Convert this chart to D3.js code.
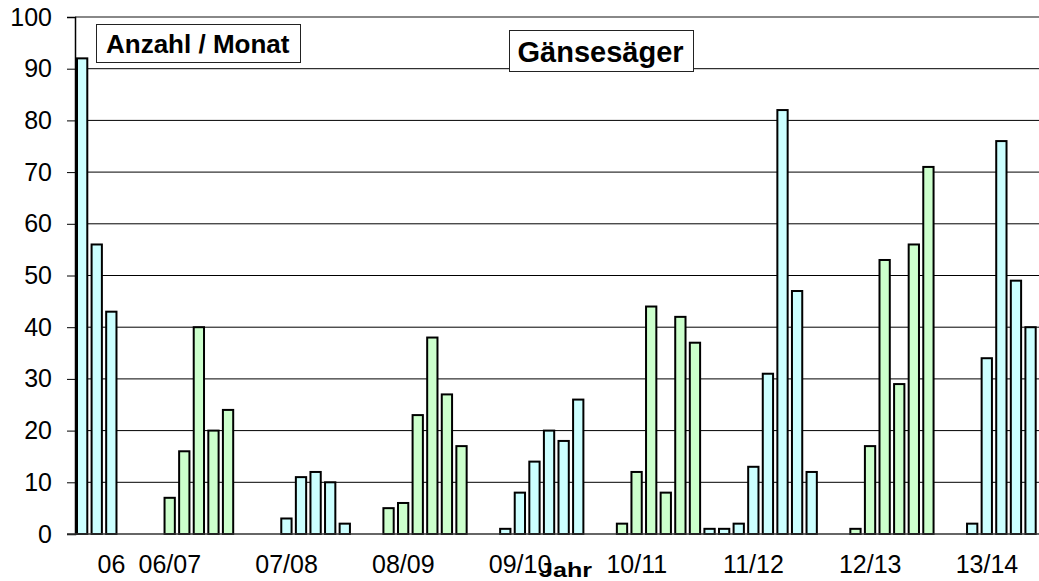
<!DOCTYPE html>
<html>
<head>
<meta charset="utf-8">
<script src="https://cdn.jsdelivr.net/npm/d3@7"></script>
<style>
  html, body { margin: 0; padding: 0; background: #fff; }
  svg { display: block; font-family: "Liberation Sans", Arial, sans-serif; }
</style>
</head>
<body>
<svg id="chart" width="1039" height="581"></svg>
<script>
// ---- data ----
// monthly counts (null = no bar) in chronological order of the category axis
const monthly = [92,56,43,null,null,null,
  7,16,40,20,24,null,null,null,
  3,11,12,10,2,null,null,
  5,6,23,38,27,17,null,null,
  1,8,14,20,18,26,null,null,
  2,12,44,8,42,37,
  1,1,2,13,31,82,47,12,null,null,
  1,17,53,29,56,71,null,null,
  2,34,76,49,40];
// season labels, the month index where each season's bars begin, and where its label sits
const seasons = ["06","06/07","07/08","08/09","09/10","10/11","11/12","12/13","13/14"];
const seasonStart = [0,6,14,21,29,37,43,53,61];
const labelAt = [2,6,14,22,30,38,46,54,62];
const yTicks = [0,10,20,30,40,50,60,70,80,90,100];
const seasonColors = ["#CCFFFF", "#CCFFCC"];
const titleText = "Gänsesäger";
const yTitle = "Anzahl / Monat";
const xTitle = "Jahr";

// ---- layout ----
const svg = d3.select("#chart");
const mLeft = 75, mRight = 1038, mTop = 17, mBottom = 534;

const x = d3.scaleBand().domain(d3.range(monthly.length)).range([mLeft, mRight]).padding(0);
const y = d3.scaleLinear().domain([0, 100]).range([mBottom, mTop]);

function seasonOf(i) {
  let s = 0;
  seasonStart.forEach((st, k) => { if (i >= st) s = k; });
  return s;
}

// gridlines
svg.append("g").selectAll("line").data(yTicks.filter(v => v > 0)).join("line")
  .attr("x1", mLeft).attr("x2", 1039)
  .attr("y1", d => y(d)).attr("y2", d => y(d))
  .attr("stroke", d => d === 100 ? "#888" : "#000")
  .attr("stroke-width", d => d === 100 ? 2 : 1);

// bars
const bw = x.bandwidth();
svg.append("g").selectAll("rect")
  .data(monthly.map((v, i) => ({v, i})).filter(d => d.v !== null))
  .join("rect")
  .attr("x", d => x(d.i) + 2)
  .attr("width", bw - 4.3)
  .attr("y", d => y(d.v))
  .attr("height", d => y(0) - y(d.v))
  .attr("fill", d => seasonColors[seasonOf(d.i) % 2])
  .attr("stroke", "#000")
  .attr("stroke-width", 2);

// y axis
const yAxis = svg.append("g").attr("transform", `translate(${mLeft},0)`)
  .call(d3.axisLeft(y).tickValues(yTicks).tickSize(8).tickPadding(15).tickFormat(d3.format("d")));
yAxis.select(".domain").attr("stroke", "#000").attr("stroke-width", 1.5);
yAxis.selectAll(".tick line").attr("stroke", "#000");
yAxis.selectAll("text").attr("font-size", 25).attr("fill", "#000")
  .attr("font-family", "'Liberation Sans', Arial, sans-serif");

// x axis
const xAxis = svg.append("g").attr("transform", `translate(0,${mBottom})`)
  .call(d3.axisBottom(x).tickValues(labelAt).tickSize(0)
    .tickFormat(d => seasons[labelAt.indexOf(d)]));
xAxis.select(".domain").remove();
xAxis.selectAll("text").attr("font-size", 25).attr("fill", "#000")
  .attr("y", 39).attr("dy", 0)
  .attr("font-family", "'Liberation Sans', Arial, sans-serif");
svg.append("line").attr("x1", 67).attr("x2", 1039)
  .attr("y1", y(0)).attr("y2", y(0)).attr("stroke", "#333").attr("stroke-width", 1.5);

// title boxes
function box(x0, y0, w, h, tx, ty, size, txt) {
  svg.append("rect").attr("x", x0).attr("y", y0).attr("width", w).attr("height", h)
    .attr("fill", "#fff").attr("stroke", "#222").attr("stroke-width", 1);
  svg.append("text").attr("x", tx).attr("y", ty).attr("font-size", size)
    .attr("font-weight", "bold").attr("fill", "#000").text(txt);
}
box(96.5, 24.5, 204, 38, 106, 53.3, 26, yTitle);
box(509.5, 30.5, 184, 41, 517.5, 61.7, 29, titleText);

// x axis title (overlaps the 09/10 label as in the original)
svg.append("text").attr("x", 539).attr("y", 577).attr("font-size", 20)
  .attr("font-weight", "bold").attr("fill", "#000")
  .attr("textLength", 53).attr("lengthAdjust", "spacingAndGlyphs").text(xTitle);
</script>
</body>
</html>
